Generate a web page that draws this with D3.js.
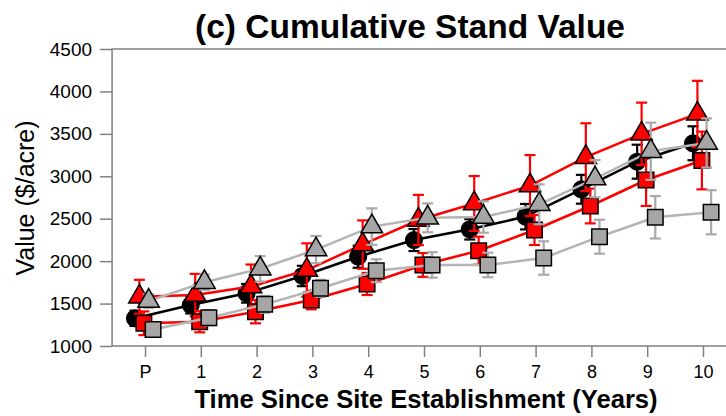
<!DOCTYPE html>
<html>
<head>
<meta charset="utf-8">
<script src="https://cdn.jsdelivr.net/npm/d3@7"></script>
<style>
  html, body { margin: 0; padding: 0; background: #fff; }
  svg { display: block; }
  text { font-family: "Liberation Sans", Arial, sans-serif; }
</style>
</head>
<body>
<div id="chart"></div>
<script>
// ---- Data ----
const yearLabels = ["P","1","2","3","4","5","6","7","8","9","10"];
const yearIndex  = [0,1,2,3,4,5,6,7,8,9,10];
const yTicks = [1000,1500,2000,2500,3000,3500,4000,4500];

const blackCircleMean = [1326,1483,1621,1825,2052,2249,2375,2524,2847,3172,3389];
const blackCircleErr  = [90,100,110,120,130,130,120,150,170,200,200];

const redTriangleMean = [1580,1600,1700,1895,2195,2485,2680,2890,3225,3500,3735];
const redTriangleErr  = [200,250,260,315,285,296,323,360,400,368,390];

const redSquareMean = [1268,1286,1404,1542,1731,1955,2123,2367,2650,2956,3186];
const redSquareErr  = [140,125,137,110,130,140,165,177,205,306,340];

const grayTriangleMean = [1530,1752,1910,2136,2407,2510,2520,2670,2972,3295,3392];
const grayTriangleErr  = [80,90,150,160,215,170,185,235,220,337,290];

const graySquareMean = [1195,1333,1491,1680,1887,1955,1955,2037,2288,2517,2576];
const graySquareErr  = [80,90,100,100,135,150,145,197,200,250,260];

// ---- Styles (not data) ----
const series = [
  {mean: blackCircleMean,  err: blackCircleErr,  shape: d3.symbolCircle,   size: 215, fill: "#000000", stroke: "#000000", line: "#000000", bar: "#000000", dx: -0.18},
  {mean: redTriangleMean,  err: redTriangleErr,  shape: d3.symbolTriangle, size: 200, fill: "#FF0000", stroke: "#000000", line: "#FF0000", bar: "#FF0000", dx: -0.10},
  {mean: redSquareMean,    err: redSquareErr,    shape: d3.symbolSquare,   size: 240, fill: "#FF0000", stroke: "#000000", line: "#FF0000", bar: "#FF0000", dx: -0.02},
  {mean: grayTriangleMean, err: grayTriangleErr, shape: d3.symbolTriangle, size: 200, fill: "#A6A6A6", stroke: "#000000", line: "#B4B4B4", bar: "#A9A9A9", dx: 0.065},
  {mean: graySquareMean,   err: graySquareErr,   shape: d3.symbolSquare,   size: 240, fill: "#A6A6A6", stroke: "#000000", line: "#B4B4B4", bar: "#A9A9A9", dx: 0.145}
];

const W = 726, H = 416;
const svg = d3.select("#chart").append("svg").attr("width", W).attr("height", H);

const x = d3.scaleLinear().domain([0, 10]).range([145, 703]);
const y = d3.scaleLinear().domain([1000, 4500]).range([346, 49]);
const frameLeft = x(-0.59), frameRight = W + 10;

const axisColor = "#808080";

// frame
svg.append("rect")
  .attr("x", frameLeft).attr("y", y(4500))
  .attr("width", frameRight - frameLeft).attr("height", y(1000) - y(4500))
  .attr("fill", "none").attr("stroke", axisColor).attr("stroke-width", 1.5);

// y axis
const yAxis = d3.axisLeft(y).tickValues(yTicks).tickSize(12).tickPadding(8).tickFormat(d3.format("d"));
const gy = svg.append("g").attr("transform", `translate(${frameLeft},0)`).call(yAxis);
gy.select(".domain").remove();
gy.selectAll(".tick line").attr("stroke", axisColor).attr("stroke-width", 1.5);
gy.selectAll(".tick text").attr("font-size", 19).attr("fill", "#000").style("font-family", "'Liberation Sans', Arial, sans-serif");

// x axis
const xAxis = d3.axisBottom(x).tickValues(yearIndex).tickSize(11).tickPadding(8).tickFormat(i => yearLabels[i]);
const gx = svg.append("g").attr("transform", `translate(0,${y(1000)})`).call(xAxis);
gx.select(".domain").remove();
gx.selectAll(".tick line").attr("stroke", axisColor).attr("stroke-width", 1.5);
gx.selectAll(".tick text").attr("font-size", 18).attr("fill", "#000").style("font-family", "'Liberation Sans', Arial, sans-serif");

// series
series.forEach(s => {
  const pts = yearIndex.map((i) => ({xi: i + s.dx, v: s.mean[i], e: s.err[i]}));
  const g = svg.append("g");
  // error bars
  const eb = g.append("g").attr("stroke", s.bar).attr("stroke-width", 2.2).attr("fill", "none");
  pts.forEach(p => {
    const cx = x(p.xi);
    eb.append("line").attr("x1", cx).attr("x2", cx).attr("y1", y(p.v - p.e)).attr("y2", y(p.v + p.e));
    eb.append("line").attr("x1", cx - 5.5).attr("x2", cx + 5.5).attr("y1", y(p.v + p.e)).attr("y2", y(p.v + p.e));
    eb.append("line").attr("x1", cx - 5.5).attr("x2", cx + 5.5).attr("y1", y(p.v - p.e)).attr("y2", y(p.v - p.e));
  });
  // line
  g.append("path").datum(pts)
    .attr("d", d3.line().x(p => x(p.xi)).y(p => y(p.v)))
    .attr("fill", "none").attr("stroke", s.line).attr("stroke-width", 2.5);
  // points
  g.selectAll("path.pt").data(pts).enter().append("path")
    .attr("class", "pt")
    .attr("transform", p => `translate(${x(p.xi)},${y(p.v)})`)
    .attr("d", d3.symbol().type(s.shape).size(s.size))
    .attr("fill", s.fill).attr("stroke", s.stroke).attr("stroke-width", 1.5);
});

// title
svg.append("text").attr("x", 410).attr("y", 38).attr("text-anchor", "middle")
  .attr("font-size", 33.5).attr("font-weight", "bold").text("(c) Cumulative Stand Value");

// x title
svg.append("text").attr("x", 426).attr("y", 408).attr("text-anchor", "middle")
  .attr("font-size", 25.6).attr("font-weight", "bold").text("Time Since Site Establishment (Years)");

// y title
svg.append("text").attr("transform", "translate(34,198) rotate(-90)").attr("text-anchor", "middle")
  .attr("font-size", 25).text("Value ($/acre)");
</script>
</body>
</html>
